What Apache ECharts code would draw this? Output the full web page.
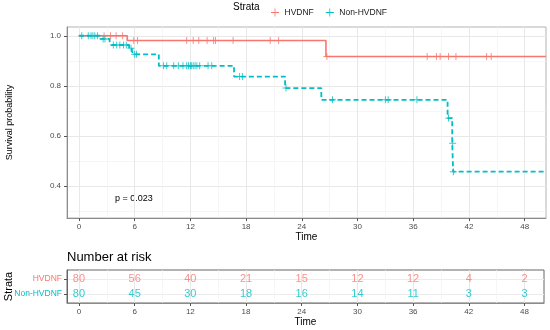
<!DOCTYPE html>
<html><head><meta charset="utf-8">
<script src="https://cdn.jsdelivr.net/npm/echarts@6/dist/echarts.min.js"></script>
<style>html,body{margin:0;padding:0;background:#fff}#c{width:550px;height:330px}</style>
</head><body><div id="c"></div>
<script>
const strata = ['HVDNF', 'Non-HVDNF'];
const colors = ['#F8766D', '#00BFC4'];
// Kaplan-Meier step points (time, survival)
const hvTimes = [0, 5.2, 26.6];
const hvSurv = [1, 0.981, 0.917];
const hvCensor = [2.7, 3.4, 4.0, 4.7, 5.9, 6.3, 11.6, 12.3, 12.9, 13.8, 14.5, 14.7, 16.6, 20.6, 21.5, 26.7, 37.5, 38.5, 38.9, 39.8, 40.6, 43.9, 44.4];
const nonTimes = [0, 2.3, 3.3, 3.5, 5.4, 5.7, 5.9, 8.6, 16.7, 22.2, 26.1, 39.7, 40.2, 40.3];
const nonSurv = [1, 0.9875, 0.975, 0.963, 0.95, 0.938, 0.926, 0.88, 0.837, 0.791, 0.744, 0.671, 0.571, 0.457];
const nonCensor = [0.3, 1.0, 1.3, 1.5, 1.7, 2.0, 2.6, 2.8, 3.7, 4.06, 4.4, 4.8, 5.1, 5.6, 6.0, 6.2, 9.1, 9.45, 10.2, 10.7, 11.2, 11.6, 11.8, 12.0, 12.1, 12.3, 12.5, 12.7, 13.0, 13.9, 14.3, 17.3, 17.6, 22.3, 27.3, 33.0, 33.3, 36.4, 39.8, 40.25, 40.32];
const endTime = 50.3;
const timeTicks = [0, 6, 12, 18, 24, 30, 36, 42, 48];
const timeMinor = [3, 9, 15, 21, 27, 33, 39, 45];
const survTicks = [0.4, 0.6, 0.8, 1.0];
const survMinor = [0.3, 0.5, 0.7, 0.9];
const riskHV = [80, 56, 40, 21, 15, 12, 12, 4, 2];
const riskNon = [80, 45, 30, 18, 16, 14, 11, 3, 3];
const pText = 'p = 0.023';

function stepData(T, S) {
  const d = T.map((t, i) => [t, S[i]]);
  d.push([endTime, S[S.length - 1]]);
  return d;
}
function survAt(T, S, t) {
  let v = S[0];
  for (let i = 0; i < T.length; i++) if (T[i] <= t) v = S[i];
  return v;
}
const cross = 'path://M-0.14,-1H0.14V1H-0.14Z M-1,-0.14H1V0.14H-1Z';
const legendCross = 'path://M-0.1,-1H0.1V1H-0.1Z M-1,-0.1H1V0.1H-1Z';
const font = 'Liberation Sans, Arial, sans-serif';

const riskData = [];
timeTicks.forEach((t, i) => {
  riskData.push({value: [t, 2, riskHV[i]], label: {color: colors[0]}});
  riskData.push({value: [t, 1, riskNon[i]], label: {color: colors[1]}});
});

function majorX(grid, max, nameGap) {
  return {
    gridIndex: grid, type: 'value', min: -1.29, max: max,
    axisLine: {show: true, onZero: false, lineStyle: {color: '#8c8c8c', width: 1}},
    axisTick: {show: true, customValues: timeTicks, length: 3, lineStyle: {color: '#555'}},
    axisLabel: {customValues: timeTicks, color: '#4d4d4d', fontSize: 8, margin: 5, fontFamily: font},
    splitLine: {show: true, lineStyle: {color: '#e8e8e8', width: 1}},
    name: 'Time', nameLocation: 'middle', nameGap: nameGap, nameMoveOverlap: false,
    nameTextStyle: {color: '#000', fontSize: 10, fontFamily: font}
  };
}
function minorX(grid, max) {
  return {
    gridIndex: grid, type: 'value', min: -1.29, max: max, position: 'bottom',
    axisLine: {show: false, onZero: false}, axisTick: {show: false, customValues: timeMinor},
    axisLabel: {show: false, customValues: timeMinor},
    splitLine: {show: true, lineStyle: {color: '#f2f2f2', width: 0.7}}
  };
}

const option = {
  animation: false,
  textStyle: {fontFamily: font},
  grid: [
    {left: 67, top: 27, width: 479, height: 191, show: true, borderColor: '#b3b3b3', borderWidth: 1, backgroundColor: '#fff', containLabel: false, outerBoundsMode: 'none'},
    {left: 67, top: 270, width: 477, height: 33, show: true, borderColor: '#666', borderWidth: 1, backgroundColor: '#fff', containLabel: false, outerBoundsMode: 'none'}
  ],
  legend: {
    left: 266, top: 3, itemWidth: 9, itemHeight: 8, itemGap: 12, itemStyle: {borderWidth: 0},
    textStyle: {fontSize: 8.5, color: '#1a1a1a', fontFamily: font},
    data: [{name: strata[0], icon: legendCross}, {name: strata[1], icon: legendCross}]
  },
  xAxis: [majorX(0, endTime, 14), minorX(0, endTime), majorX(1, 50.1, 14), minorX(1, 50.1)],
  yAxis: [
    {
      gridIndex: 0, type: 'value', min: 0.272, max: 1.035,
      axisLine: {show: true, onZero: false, lineStyle: {color: '#8c8c8c'}},
      axisTick: {show: true, customValues: survTicks, length: 3, lineStyle: {color: '#555'}},
      axisLabel: {customValues: survTicks, formatter: v => v.toFixed(1), color: '#4d4d4d', fontSize: 8, margin: 6},
      splitLine: {show: true, lineStyle: {color: '#e8e8e8', width: 1}},
      name: 'Survival probability', nameLocation: 'middle', nameGap: 53, nameMoveOverlap: false,
      nameTextStyle: {color: '#000', fontSize: 9}
    },
    {
      gridIndex: 0, type: 'value', min: 0.272, max: 1.035,
      axisLine: {show: false, onZero: false}, axisTick: {show: false, customValues: survMinor},
      axisLabel: {show: false, customValues: survMinor},
      splitLine: {show: true, lineStyle: {color: '#f2f2f2', width: 0.7}}
    },
    {
      gridIndex: 1, type: 'value', min: 0.4, max: 2.6,
      axisLine: {show: true, onZero: false, lineStyle: {color: '#666'}},
      axisTick: {show: true, customValues: [1, 2], length: 3, lineStyle: {color: '#555'}},
      axisLabel: {customValues: [1, 2], formatter: v => strata[2 - v], color: v => colors[2 - v], fontSize: 8.5, margin: 5},
      splitLine: {show: true, lineStyle: {color: '#ececec', width: 1}},
      name: 'Strata', nameLocation: 'middle', nameGap: 53, nameMoveOverlap: false,
      nameTextStyle: {color: '#000', fontSize: 11}
    }
  ],
  series: [
    {
      name: strata[0], type: 'line', xAxisIndex: 0, yAxisIndex: 0, step: 'end', showSymbol: false,
      data: stepData(hvTimes, hvSurv), itemStyle: {color: colors[0]},
      lineStyle: {color: colors[0], width: 1.6}, z: 3
    },
    {
      name: strata[1], type: 'line', xAxisIndex: 0, yAxisIndex: 0, step: 'end', showSymbol: false,
      data: stepData(nonTimes, nonSurv), itemStyle: {color: colors[1]},
      lineStyle: {color: colors[1], width: 1.8, type: [5, 3]}, z: 4
    },
    {
      type: 'scatter', xAxisIndex: 0, yAxisIndex: 0, symbol: cross, symbolSize: 7,
      itemStyle: {color: colors[0]}, z: 5,
      data: hvCensor.map(t => [t, survAt(hvTimes, hvSurv, t)])
    },
    {
      type: 'scatter', xAxisIndex: 0, yAxisIndex: 0, symbol: cross, symbolSize: 7,
      itemStyle: {color: colors[1]}, z: 6,
      data: nonCensor.map(t => [t, survAt(nonTimes, nonSurv, t)])
    },
    {
      type: 'scatter', xAxisIndex: 2, yAxisIndex: 2, symbolSize: 1, itemStyle: {color: 'rgba(0,0,0,0)'},
      label: {show: true, position: 'inside', formatter: p => String(p.value[2]), fontSize: 11, fontFamily: font},
      data: riskData, z: 6
    }
  ],
  graphic: [
    {type: 'text', left: 233, top: 2, style: {text: 'Strata', fontSize: 10, fill: '#000', fontFamily: font}},
    {type: 'text', left: 67, top: 251, style: {text: 'Number at risk', fontSize: 13, fill: '#000', fontFamily: font}},
    {type: 'text', left: 115, top: 194, style: {text: pText, fontSize: 9, fill: '#000', fontFamily: font}}
  ]
};
const chart = echarts.init(document.getElementById('c'), null, {renderer: 'canvas'});
chart.setOption(option);
</script>
</body></html>
